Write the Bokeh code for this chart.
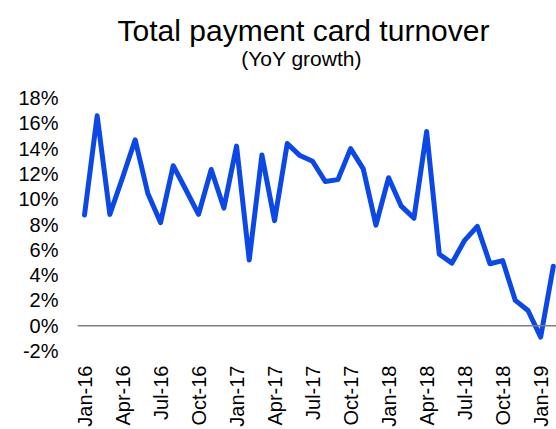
from bokeh.plotting import figure
from bokeh.models import Label, Span, FixedTicker, PrintfTickFormatter, Range1d
from bokeh.embed import file_html
from bokeh.resources import INLINE
import math

months = ["Jan-16", "Feb-16", "Mar-16", "Apr-16", "May-16", "Jun-16", "Jul-16", "Aug-16",
          "Sep-16", "Oct-16", "Nov-16", "Dec-16", "Jan-17", "Feb-17", "Mar-17", "Apr-17",
          "May-17", "Jun-17", "Jul-17", "Aug-17", "Sep-17", "Oct-17", "Nov-17", "Dec-17",
          "Jan-18", "Feb-18", "Mar-18", "Apr-18", "May-18", "Jun-18", "Jul-18", "Aug-18",
          "Sep-18", "Oct-18", "Nov-18", "Dec-18", "Jan-19", "Feb-19"]
growth = [8.75, 16.6, 8.8, 11.7, 14.7, 10.45, 8.15, 12.65, 10.75, 8.8, 12.35, 9.3,
          14.2, 5.2, 13.5, 8.3, 14.4, 13.45, 13.0, 11.4, 11.55, 14.0, 12.4, 7.95,
          11.7, 9.45, 8.5, 15.35, 5.65, 4.95, 6.75, 7.85, 4.9, 5.15, 2.0, 1.2, -0.9, 4.7]
y_ticks = [-2, 0, 2, 4, 6, 8, 10, 12, 14, 16, 18]
x_tick_labels = ["Jan-16", "Apr-16", "Jul-16", "Oct-16", "Jan-17", "Apr-17", "Jul-17",
                 "Oct-17", "Jan-18", "Apr-18", "Jul-18", "Oct-18", "Jan-19"]
title_text = "Total payment card turnover"
subtitle_text = "(YoY growth)"

FONT = "Liberation Sans"
xs = list(range(len(months)))
x_ticks = [months.index(m) for m in x_tick_labels]

p = figure(width=556, height=429, output_backend="svg", toolbar_location=None,
           x_range=Range1d(-0.5525, 37.25), y_range=Range1d(-2.594, 25.71),
           min_border_left=77, min_border_right=0, min_border_top=0, min_border_bottom=69)
p.outline_line_color = None
p.grid.visible = False
p.background_fill_color = "white"
p.border_fill_color = "white"

p.add_layout(Label(x=226, y=328, x_units="screen", y_units="screen", text=title_text,
                   text_align="center", text_baseline="alphabetic", text_font=FONT,
                   text_font_size="30px", text_color="#000000"))
p.add_layout(Label(x=224, y=300, x_units="screen", y_units="screen", text=subtitle_text,
                   text_align="center", text_baseline="alphabetic", text_font=FONT,
                   text_font_size="21px", text_color="#000000"))

p.add_layout(Span(location=0, dimension="width", line_color="#7f7f7f", line_width=1.6))

p.line(xs, growth, line_color="#0B48E6", line_width=5, line_join="round", line_cap="round")

p.yaxis.ticker = FixedTicker(ticks=y_ticks)
p.yaxis.formatter = PrintfTickFormatter(format="%d%%")
p.yaxis.axis_line_color = None
p.yaxis.major_tick_line_color = None
p.yaxis.minor_tick_line_color = None
p.yaxis.major_tick_out = 0
p.yaxis.major_tick_in = 0
p.yaxis.major_label_standoff = 19
p.yaxis.major_label_text_font = FONT
p.yaxis.major_label_text_font_size = "20px"
p.yaxis.major_label_text_color = "#000000"

p.xaxis.ticker = FixedTicker(ticks=x_ticks)
p.xaxis.major_label_overrides = {t: lab for t, lab in zip(x_ticks, x_tick_labels)}
p.xaxis.major_label_orientation = math.pi / 2
p.xaxis.axis_line_color = None
p.xaxis.major_tick_line_color = None
p.xaxis.minor_tick_line_color = None
p.xaxis.major_tick_out = 0
p.xaxis.major_tick_in = 0
p.xaxis.major_label_standoff = 7
p.xaxis.major_label_text_font = FONT
p.xaxis.major_label_text_font_size = "20px"
p.xaxis.major_label_text_color = "#000000"

open("out.html", "w").write(file_html(p, INLINE))
